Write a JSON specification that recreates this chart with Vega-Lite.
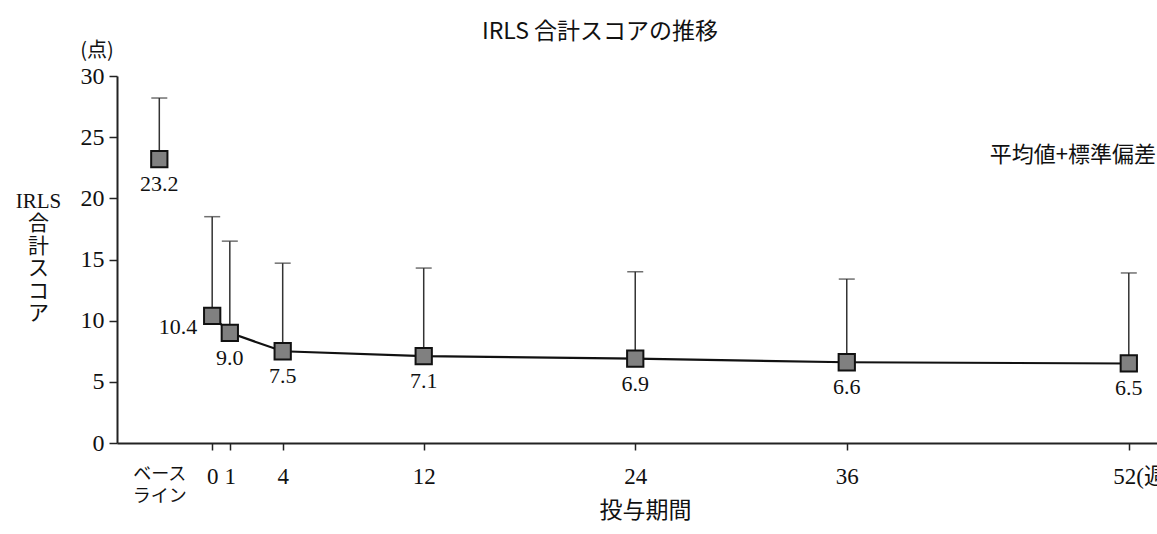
{
  "$schema": "https://vega.github.io/schema/vega-lite/v6.json",
  "width": 1040,
  "height": 367,
  "autosize": {"type": "none"},
  "padding": {"left": 117, "top": 76, "right": 0, "bottom": 91},
  "background": "white",
  "title": {
    "text": "IRLS 合計スコアの推移",
    "font": "Noto Sans CJK JP",
    "fontSize": 23,
    "fontWeight": "normal",
    "color": "#111111",
    "anchor": "middle",
    "dx": -37,
    "offset": -26,
    "baseline": "bottom"
  },
  "config": {
    "view": {"stroke": null},
    "axis": {
      "grid": false,
      "domainColor": "#222222",
      "domainWidth": 2,
      "tickColor": "#222222",
      "tickWidth": 1.5,
      "labelColor": "#111111",
      "titleColor": "#111111",
      "labelFont": "Liberation Serif, Noto Sans CJK JP",
      "labelFontWeight": "normal",
      "titleFontWeight": "normal"
    }
  },
  "data": {
    "values": [
      {"week": -3, "mean": 23.2, "upper": 28.2},
      {"week": 0, "mean": 10.4, "upper": 18.5},
      {"week": 1, "mean": 9.0, "upper": 16.5},
      {"week": 4, "mean": 7.5, "upper": 14.7},
      {"week": 12, "mean": 7.1, "upper": 14.3},
      {"week": 24, "mean": 6.9, "upper": 14.0},
      {"week": 36, "mean": 6.6, "upper": 13.4},
      {"week": 52, "mean": 6.5, "upper": 13.9}
    ]
  },
  "layer": [
    {
      "mark": {"type": "rule", "color": "#333333", "strokeWidth": 1.5},
      "encoding": {
        "x": {
          "field": "week",
          "type": "quantitative",
          "scale": {"domain": [-5.4, 53.6], "nice": false, "zero": false},
          "axis": {
            "values": [-3, 0, 1, 4, 12, 24, 36, 52],
            "labelExpr": "datum.value == -3 ? ['ベース', 'ライン'] : datum.value == 52 ? '52(週)' : datum.label",
            "tickSize": 7,
            "labelPadding": 15,
            "labelBaseline": "top",
            "labelFontSize": {"condition": {"test": "datum.value == -3", "value": 18}, "value": 23},
            "labelAlign": {"condition": {"test": "datum.value == 52", "value": "left"}, "value": "center"},
            "labelOffset": {"condition": {"test": "datum.value == 52", "value": -16}, "value": 0},
            "tickOpacity": {"condition": {"test": "datum.value == -3", "value": 0}, "value": 1},
            "labelOverlap": false,
            "labelBound": false,
            "labelFlush": false,
            "labelLineHeight": 22,
            "title": "投与期間",
            "titleFont": "Noto Sans CJK JP",
            "titleFontSize": 23,
            "titleX": 528,
            "titleY": 56,
            "titleBaseline": "top",
            "titleAlign": "center"
          }
        },
        "y": {
          "field": "mean",
          "type": "quantitative",
          "scale": {"domain": [0, 30], "nice": false, "zero": true},
          "axis": {
            "values": [0, 5, 10, 15, 20, 25, 30],
            "tickSize": 8,
            "labelPadding": 5,
            "labelFontSize": 24,
            "labelFont": "Liberation Serif",
            "title": ["IRLS", "合", "計", "ス", "コ", "ア"],
            "titleAngle": 0,
            "titleX": -79,
            "titleY": 114,
            "titleBaseline": "top",
            "titleAlign": "center",
            "titleFont": "Liberation Serif, Noto Sans CJK JP",
            "titleFontSize": 21,
            "titleLineHeight": 22.5
          }
        },
        "y2": {"field": "upper"}
      }
    },
    {
      "mark": {"type": "tick", "orient": "horizontal", "size": 16, "thickness": 1.5, "color": "#333333"},
      "encoding": {
        "x": {"field": "week", "type": "quantitative"},
        "y": {"field": "upper", "type": "quantitative"}
      }
    },
    {
      "transform": [{"filter": "datum.week >= 0"}],
      "mark": {"type": "line", "color": "#111111", "strokeWidth": 2.2},
      "encoding": {
        "x": {"field": "week", "type": "quantitative"},
        "y": {"field": "mean", "type": "quantitative"}
      }
    },
    {
      "mark": {"type": "point", "shape": "square", "size": 265, "filled": true, "fill": "#808080", "stroke": "#111111", "strokeWidth": 2, "opacity": 1},
      "encoding": {
        "x": {"field": "week", "type": "quantitative"},
        "y": {"field": "mean", "type": "quantitative"}
      }
    },
    {
      "transform": [{"filter": "datum.week != 0"}],
      "mark": {"type": "text", "font": "Liberation Serif", "fontSize": 22, "fontWeight": "normal", "color": "#111111", "baseline": "middle", "align": "center", "dy": 25},
      "encoding": {
        "x": {"field": "week", "type": "quantitative"},
        "y": {"field": "mean", "type": "quantitative"},
        "text": {"field": "mean", "type": "quantitative", "format": ".1f"}
      }
    },
    {
      "transform": [{"filter": "datum.week == 0"}],
      "mark": {"type": "text", "font": "Liberation Serif", "fontSize": 22, "fontWeight": "normal", "color": "#111111", "baseline": "middle", "align": "right", "dx": -15, "dy": 11},
      "encoding": {
        "x": {"field": "week", "type": "quantitative"},
        "y": {"field": "mean", "type": "quantitative"},
        "text": {"field": "mean", "type": "quantitative", "format": ".1f"}
      }
    },
    {
      "data": {"values": [{"note": "平均値+標準偏差"}]},
      "mark": {"type": "text", "font": "Noto Sans CJK JP", "fontSize": 22, "fontWeight": "normal", "color": "#111111", "baseline": "middle", "align": "right"},
      "encoding": {
        "x": {"datum": 53.54},
        "y": {"datum": 23.55},
        "text": {"field": "note"}
      }
    },
    {
      "data": {"values": [{"unit": "(点)"}]},
      "mark": {"type": "text", "font": "Noto Sans CJK JP", "fontSize": 20, "fontWeight": "normal", "color": "#111111", "baseline": "middle", "align": "center"},
      "encoding": {
        "x": {"datum": -6.53},
        "y": {"datum": 32.05},
        "text": {"field": "unit"}
      }
    }
  ]
}
